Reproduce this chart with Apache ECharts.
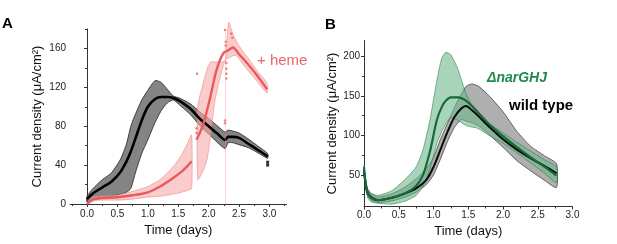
<!DOCTYPE html>
<html>
<head>
<meta charset="utf-8">
<script src="https://cdn.jsdelivr.net/npm/echarts@6/dist/echarts.min.js"></script>
<style>
html,body{margin:0;padding:0;background:#fff;}
#chart{width:617px;height:244px;}
</style>
</head>
<body>
<div id="chart"></div>
<script>
// ---- panel A : control (black) ----
var tA_ctl    = [0.00,0.10,0.25,0.40,0.55,0.65,0.72,0.80,0.90,1.00,1.12,1.22,1.32,1.42,1.52,1.70,1.85,2.00,2.15,2.27,2.32,2.40,2.50,2.65,2.80,2.97];
var meanA_ctl = [5,11,17,23,33,44,54,68,86,100,108,110,110,109,106,98,88,80,72,66,69,69,68,62,56,49];
var loA_ctl   = [2,4,6,8,10,12,16,33,52,66,84,96,104,107,102,92,81,72,63,57,63,63,61,58,53,47];
var hiA_ctl   = [8,16,25,32,46,62,80,93,107,117,127,125,118,111,109,103,95,88,80,74,76,75,73,67,60,52];

// ---- panel A : + heme (red) ----
var tA_heme1    = [0.00,0.05,0.10,0.25,0.50,0.75,1.00,1.20,1.40,1.55,1.65,1.72];
var meanA_heme1 = [0,3,5,6,7,9,12,18,26,33,39,44];
var loA_heme1   = [0,1,3,4,4,5,7,8,10,12,14,16];
var hiA_heme1   = [1,5,7,8,9,13,18,25,37,50,62,71];

var tA_heme2    = [1.80,1.90,2.02,2.13,2.24,2.32,2.40,2.50,2.63,2.80,2.96];
var meanA_heme2 = [66,80,108,138,155,158,161,154,145,132,118];

var tA_band2  = [1.82,1.90,1.97,2.03,2.10,2.19,2.28];
var loA_band2 = [25,33,45,70,105,131,150];
var hiA_band2 = [100,122,138,146,146,146,147];

var tA_band3  = [2.28,2.33,2.38,2.45,2.55,2.65,2.80,2.96];
var loA_band3 = [150,150,152,153,145,137,126,114];
var hiA_band3 = [150,187,178,168,158,150,137,124];

var dotsA_heme = [[1.81,134],[2.27,179],[2.28,167],[2.28,163],[2.29,145],[2.29,139],[2.29,134],[2.29,129],[2.27,86],[2.27,83],[2.37,175],[2.39,171],[1.80,73],[1.80,78]];
var dotsA_ctl  = [[2.97,43],[2.97,40]];
var hemeAddTime = 2.28;

// ---- panel B : wild type (black) ----
var tB_wt    = [0.00,0.02,0.05,0.10,0.20,0.40,0.60,0.75,0.90,1.00,1.10,1.20,1.30,1.40,1.47,1.55,1.65,1.80,2.00,2.20,2.40,2.60,2.77];
var meanB_wt = [55,40,28,22,18,21,27,33,44,60,82,104,123,134,137,132,124,111,95,82,71,61,52];
var loB_wt   = [52,36,24,18,15,17,22,28,38,50,70,92,110,120,118,116,112,101,85,68,55,43,34];
var hiB_wt   = [58,44,32,26,22,26,35,45,58,72,95,115,135,152,162,165,162,150,130,105,86,74,64];

// ---- panel B : ΔnarGHJ (green) ----
var tB_nar    = [0.00,0.02,0.05,0.10,0.20,0.40,0.60,0.75,0.85,0.95,1.05,1.12,1.18,1.25,1.35,1.48,1.63,1.80,2.00,2.20,2.40,2.60,2.77];
var meanB_nar = [60,42,28,21,18,21,27,36,50,80,120,136,144,148,148,143,130,114,99,85,72,60,49];
var loB_nar   = [55,36,22,16,14,13,17,24,36,58,90,105,115,123,119,112,109,100,90,78,65,52,40];
var hiB_nar   = [62,48,33,27,24,30,45,60,82,120,170,198,205,202,184,150,128,115,103,91,80,69,60];

// tick values
var xTicks  = [0,0.5,1,1.5,2,2.5,3];
var xMinorA = [-0.25,0.25,0.75,1.25,1.75,2.25,2.75,3.25];
var xMinorB = [0.25,0.75,1.25,1.75,2.25,2.75];
var yTicksA = [0,40,80,120,160];
var yMinorA = [20,60,100,140,180];
var yTicksB = [50,100,150,200];
var yMinorB = [25,75,125,175];

function pairs(t, v) {
	var out = [];
	for (var i = 0; i < t.length; i++) out.push([t[i], v[i]]);
	return out;
}

function band(axis, t, lo, hi, fill, stroke) {
	return {
		type: 'custom',
		xAxisIndex: axis, yAxisIndex: axis,
		silent: true, clip: false,
		data: [[t[0], lo[0]]],
		renderItem: function (params, api) {
			var pts = [];
			for (var i = 0; i < t.length; i++) pts.push(api.coord([t[i], hi[i]]));
			for (var j = t.length - 1; j >= 0; j--) pts.push(api.coord([t[j], lo[j]]));
			return {
				type: 'polygon',
				shape: { points: pts, smooth: 0.2 },
				style: { fill: fill, stroke: stroke, lineWidth: 0.8 }
			};
		}
	};
}

function curve(axis, t, v, color, width) {
	return {
		type: 'line',
		xAxisIndex: axis, yAxisIndex: axis,
		data: pairs(t, v),
		showSymbol: false, smooth: 0.3, silent: true,
		lineStyle: { color: color, width: width }
	};
}

var tickFont = { color: '#222', fontSize: 10, fontFamily: 'Liberation Sans, Arial' };
var nameFont = { color: '#111', fontSize: 13, fontFamily: 'Liberation Sans, Arial' };
var axisLine = { show: true, lineStyle: { color: '#333', width: 1 } };
var noSplit = { show: false };

// builds a tick-only axis (no line, no labels) for the short minor ticks
function minorX(grid, min, max, vals) {
	return {
		gridIndex: grid, type: 'value', min: min, max: max, position: 'bottom',
		axisLine: { show: false },
		axisTick: { show: true, length: 2, customValues: vals, lineStyle: { color: '#333' } },
		axisLabel: { show: false }, splitLine: noSplit
	};
}
function minorY(grid, min, max, vals) {
	return {
		gridIndex: grid, type: 'value', min: min, max: max, position: 'left',
		axisLine: { show: false },
		axisTick: { show: true, length: 2, customValues: vals, lineStyle: { color: '#333' } },
		axisLabel: { show: false }, splitLine: noSplit
	};
}

var chart = echarts.init(document.getElementById('chart'));

var option = {
	animation: false,
	grid: [
		{ left: 70, top: 29, width: 216.5, height: 175 },
		{ left: 364, top: 40.5, width: 208.5, height: 166 }
	],
	xAxis: [
		{
			gridIndex: 0, type: 'value', min: -0.28, max: 3.28, position: 'bottom',
			name: 'Time (days)', nameLocation: 'middle', nameGap: 20, nameTextStyle: nameFont,
			axisLine: axisLine,
			axisTick: { show: true, length: 3, customValues: xTicks, lineStyle: { color: '#333' } },
			axisLabel: { customValues: xTicks, margin: 5, formatter: function (v) { return v.toFixed(1); }, textStyle: tickFont },
			splitLine: noSplit
		},
		{
			gridIndex: 1, type: 'value', min: 0, max: 3, position: 'bottom',
			name: 'Time (days)', nameLocation: 'middle', nameGap: 18, nameTextStyle: nameFont,
			axisLine: axisLine,
			axisTick: { show: true, length: 3, customValues: xTicks, lineStyle: { color: '#333' } },
			axisLabel: { customValues: xTicks, margin: 4, formatter: function (v) { return v.toFixed(1); }, textStyle: tickFont },
			splitLine: noSplit
		},
		minorX(0, -0.28, 3.28, xMinorA),
		minorX(1, 0, 3, xMinorB)
	],
	yAxis: [
		{
			gridIndex: 0, type: 'value', min: 0, max: 180, position: 'left',
			name: 'Current density (μA/cm²)', nameLocation: 'middle', nameGap: 26, nameTextStyle: nameFont,
			axisLine: axisLine,
			axisTick: { show: true, length: 3, customValues: yTicksA, lineStyle: { color: '#333' } },
			axisLabel: { margin: 4, customValues: yTicksA, textStyle: tickFont },
			splitLine: noSplit
		},
		{
			gridIndex: 1, type: 'value', min: 10, max: 220, position: 'left',
			name: 'Current density (μA/cm²)', nameLocation: 'middle', nameGap: 23, nameTextStyle: nameFont,
			axisLine: axisLine,
			axisTick: { show: true, length: 3, customValues: yTicksB, lineStyle: { color: '#333' } },
			axisLabel: { margin: 4, customValues: yTicksB, textStyle: tickFont },
			splitLine: noSplit
		},
		minorY(0, 0, 180, yMinorA),
		minorY(1, 10, 220, yMinorB)
	],
	series: [
		band(0, tA_ctl, loA_ctl, hiA_ctl, 'rgba(110,110,110,0.85)', '#222'),
		curve(0, tA_ctl, meanA_ctl, '#000', 2.6),
		band(0, tA_heme1, loA_heme1, hiA_heme1, 'rgba(247,170,170,0.6)', 'rgba(240,140,140,0.8)'),
		band(0, tA_band2, loA_band2, hiA_band2, 'rgba(247,170,170,0.6)', 'rgba(240,140,140,0.8)'),
		band(0, tA_band3, loA_band3, hiA_band3, 'rgba(247,170,170,0.6)', 'rgba(240,140,140,0.8)'),
		curve(0, tA_heme1, meanA_heme1, '#e85a5c', 2.4),
		{
			type: 'line', xAxisIndex: 0, yAxisIndex: 0,
			data: pairs(tA_heme2, meanA_heme2),
			showSymbol: false, smooth: 0.3, silent: true,
			lineStyle: { color: '#e85a5c', width: 2.4 },
			markLine: {
				silent: true, symbol: 'none', label: { show: false },
				lineStyle: { color: 'rgba(240,150,150,0.5)', width: 0.8, type: 'solid' },
				data: [{ xAxis: hemeAddTime }]
			}
		},
		{
			type: 'scatter', xAxisIndex: 0, yAxisIndex: 0, silent: true,
			data: dotsA_heme, symbolSize: 2.5, itemStyle: { color: '#e85a5c' }
		},
		{
			type: 'scatter', xAxisIndex: 0, yAxisIndex: 0, silent: true,
			data: dotsA_ctl, symbol: 'rect', symbolSize: 3, itemStyle: { color: '#000' }
		},
		band(1, tB_wt, loB_wt, hiB_wt, 'rgba(110,110,110,0.55)', '#444'),
		band(1, tB_nar, loB_nar, hiB_nar, 'rgba(110,185,140,0.6)', 'rgba(40,120,70,0.7)'),
		curve(1, tB_wt, meanB_wt, '#0a0a0a', 2),
		curve(1, tB_nar, meanB_nar, '#17693a', 2.2)
	],
	graphic: [
		{ type: 'text', left: 2, top: 16, style: { text: 'A', font: 'bold 15px Liberation Sans', fill: '#000' } },
		{ type: 'text', left: 325, top: 17, style: { text: 'B', font: 'bold 15px Liberation Sans', fill: '#000' } },
		{ type: 'text', left: 257, top: 53, style: { text: '+ heme', font: '15px Liberation Sans', fill: '#e8686a' } },
		{ type: 'text', left: 487, top: 71, style: { text: 'ΔnarGHJ', font: 'italic bold 14px Liberation Sans', fill: '#1e8a4a' } },
		{ type: 'text', left: 509, top: 98, style: { text: 'wild type', font: 'bold 15px Liberation Sans', fill: '#000' } }
	]
};

chart.setOption(option);
</script>
</body>
</html>
